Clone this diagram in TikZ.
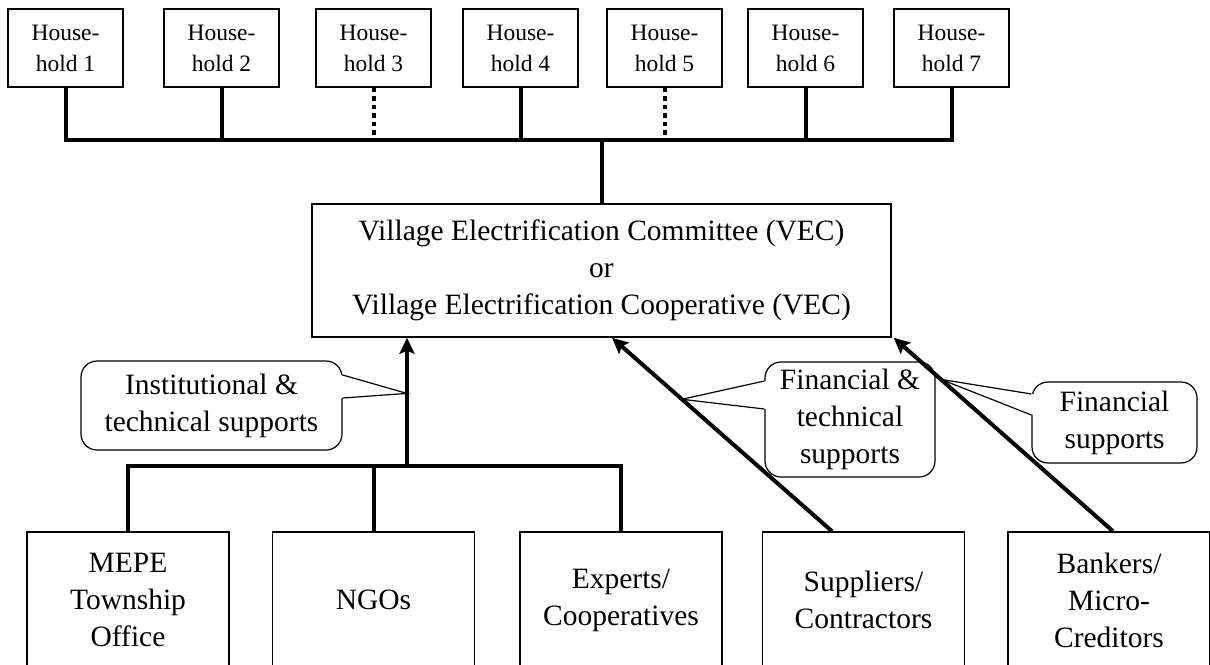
\documentclass[tikz,border=0pt]{standalone}
\usepackage{fontspec}
\setmainfont{Liberation Serif}
\usetikzlibrary{arrows.meta,calc}
\tikzstyle{Arrow}=[line width=2pt,-{Stealth[length=8pt,width=7.5pt,inset=1.5pt]}]
\tikzstyle{Bus}=[line width=2pt]
\tikzstyle{DotBus}=[line width=2pt,dash pattern=on 2.25pt off 2pt]
\tikzstyle{House}=[draw,line width=.75pt,minimum width=57.5pt,minimum height=39pt,inner sep=0pt,align=center,font=\fontsize{11.75}{15.5}\selectfont]
\tikzstyle{Actor}=[draw,line width=.75pt,minimum width=101pt,minimum height=68pt,inner sep=0pt,align=center,font=\fontsize{14.75}{18.5}\selectfont]
\tikzstyle{Bubble}=[draw,line width=.6pt,rounded corners=8pt,inner sep=0pt,align=center,font=\fontsize{14.75}{18.5}\selectfont]
\tikzstyle{Pointer}=[line width=.6pt]

\begin{document}
\begin{tikzpicture}[x=0.5pt,y=-0.5pt]

\useasboundingbox (0,0) rectangle (1210,664);
\clip (0,0) rectangle (1210,664);

% households
\node[House] (hh1) at (65.5,48) {House-\\hold 1};
\node[House] (hh2) at (221.5,48) {House-\\hold 2};
\node[House] (hh3) at (373.5,48) {House-\\hold 3};
\node[House] (hh4) at (520.5,48) {House-\\hold 4};
\node[House] (hh5) at (664.5,48) {House-\\hold 5};
\node[House] (hh6) at (805.5,48) {House-\\hold 6};
\node[House] (hh7) at (951.5,48) {House-\\hold 7};

% committee
\node[Actor,minimum width=289.5pt,minimum height=66.5pt] (vec) at (601.5,270.5)
  {Village Electrification Committee (VEC)\\or\\Village Electrification Cooperative (VEC)};

% supporting actors
\node[Actor] (mepe) at (128,600) {MEPE\\Township\\Office};
\node[Actor] (ngo) at (373.5,600) {NGOs};
\node[Actor] (expert) at (621,600) {Experts/\\Cooperatives};
\node[Actor] (supplier) at (863.5,600) {Suppliers/\\Contractors};
\node[Actor] (banker) at (1109,600) {Bankers/\\Micro-\\Creditors};

\coordinate (topbus) at (601.5,140);
\coordinate (lowbus) at (407,466);
\coordinate (insHead) at (lowbus |- vec.south);
\coordinate (supTail) at ([xshift=-15.75pt]supplier.north);
\coordinate (supHead) at ([xshift=5.25pt]vec.south);
\coordinate (bankTail) at ([xshift=2pt]banker.north);
\coordinate (bankHead) at ([xshift=1pt]vec.south east);
\coordinate (insTip) at ($(lowbus)!.566!(insHead)$);
\coordinate (ftTip) at ($(supTail)!.682!(supHead)$);
\coordinate (finTip) at ($(bankTail)!.785!(bankHead)$);

% callouts
\node[Bubble,minimum width=130.5pt,minimum height=44.5pt] (ins) at (211.5,405.5) {Institutional \&\\technical supports};
\node[Bubble,minimum width=85pt,minimum height=57.5pt] (ft) at (850,419.5) {Financial \&\\technical\\supports};
\node[Bubble,minimum width=82.5pt,minimum height=40.5pt] (fin) at (1114.5,422.5) {Financial\\supports};

\fill[white] ([xshift=-1pt,yshift=15.25pt]ins.east) -- (insTip) -- ([xshift=-1pt,yshift=3.75pt]ins.east) -- cycle;
\draw[Pointer] ([yshift=15.25pt]ins.east) -- (insTip) -- ([yshift=3.75pt]ins.east);
\fill[white] ([xshift=1pt,yshift=19.25pt]ft.west) -- (ftTip) -- ([xshift=1pt,yshift=5.25pt]ft.west) -- cycle;
\draw[Pointer] ([yshift=19.25pt]ft.west) -- (ftTip) -- ([yshift=5.25pt]ft.west);
\fill[white] ([xshift=1pt,yshift=14.25pt]fin.west) -- (finTip) -- ([xshift=1pt,yshift=3.75pt]fin.west) -- cycle;
\draw[Pointer] ([yshift=14.25pt]fin.west) -- (finTip) -- ([yshift=3.75pt]fin.west);

% feeder line
\draw[Bus] (hh1.south) |- (topbus) -| (hh7.south);
\draw[Bus] (hh2.south) -- (hh2.south |- topbus);
\draw[DotBus] (hh3.south) -- (hh3.south |- topbus);
\draw[Bus] (hh4.south) -- (hh4.south |- topbus);
\draw[DotBus] (hh5.south) -- (hh5.south |- topbus);
\draw[Bus] (hh6.south) -- (hh6.south |- topbus);
\draw[Bus] (topbus) -- (vec.north);

% supports
\draw[Bus] (mepe.north) |- (lowbus) -| (expert.north);
\draw[Bus] (ngo.north) -- (ngo.north |- lowbus);
\draw[Arrow] (lowbus) -- (insHead);
\draw[Arrow] (supTail) -- (supHead);
\draw[Arrow] (bankTail) -- (bankHead);

\end{tikzpicture}
\end{document}
